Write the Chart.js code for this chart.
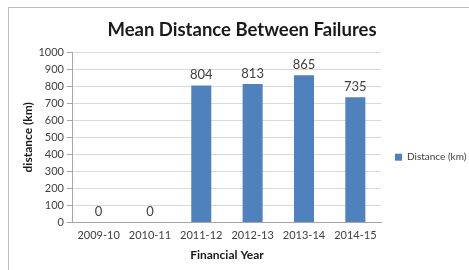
<!DOCTYPE html>
<html>
<head>
<meta charset="utf-8">
<script src="https://cdn.jsdelivr.net/npm/chart.js@4"></script>
<style>
  html, body { margin:0; padding:0; background:#fff; }
  #wrap { position:relative; width:469px; height:270px; overflow:hidden; }
  #frame { position:absolute; left:8px; top:7px; width:500px; height:300px; border:1px solid #bdbdbd; }
  canvas { position:absolute; left:0; top:0; }
</style>
</head>
<body>
<div id="wrap">
  <div id="frame"></div>
  <canvas id="c" width="469" height="270"></canvas>
</div>
<script>
// chart data
const years    = ['2009-10','2010-11','2011-12','2012-13','2013-14','2014-15'];
const distance = [0, 0, 804, 813, 865, 735];
const yTicks   = [0,100,200,300,400,500,600,700,800,900,1000];

const FONT = 'Lato, "Liberation Sans", sans-serif';

// value labels above bars
const barLabels = {
    id: 'barLabels',
    afterDatasetsDraw(chart) {
        const ctx = chart.ctx;
        const meta = chart.getDatasetMeta(0);
        ctx.save();
        ctx.font = '13px ' + FONT;
        ctx.fillStyle = '#404040';
        ctx.textAlign = 'center';
        ctx.textBaseline = 'bottom';
        meta.data.forEach((bar, i) => {
            ctx.fillText(String(distance[i]), bar.x, bar.y - 4);
        });
        ctx.restore();
    }
};

new Chart(document.getElementById('c'), {
    type: 'bar',
    data: {
        labels: years,
        datasets: [{
            label: 'Distance (km)',
            data: distance,
            backgroundColor: '#4F81BD',
            barPercentage: 0.39,
            categoryPercentage: 1
        }]
    },
    options: {
        responsive: false,
        animation: false,
        events: [],
        layout: { padding: { left: 15, right: 0, top: 8, bottom: 8 } },
        plugins: {
            tooltip: { enabled: false },
            title: {
                display: true,
                text: 'Mean Distance Between Failures',
                color: '#1a1a1a',
                font: { family: FONT, size: 18.5, weight: 'bold' },
                padding: { top: 11, bottom: 11 }
            },
            legend: {
                position: 'right',
                maxWidth: 88,
                // empty title only pushes the single item down
                title: { display: true, text: '', padding: { top: 30, bottom: 0 }, font: { size: 12 } },
                labels: {
                    boxWidth: 7,
                    boxHeight: 7,
                    padding: 14,
                    color: '#404040',
                    font: { family: FONT, size: 10 }
                }
            }
        },
        scales: {
            x: {
                grid: { display: false, tickLength: 0 },
                border: { display: true, color: '#a6a6a6' },
                ticks: { color: '#404040', font: { family: FONT, size: 11 }, padding: 6 },
                title: {
                    display: true,
                    text: 'Financial Year',
                    color: '#1a1a1a',
                    font: { family: FONT, size: 12, weight: 'bold' },
                    padding: { top: 0, bottom: 0 }
                }
            },
            y: {
                min: 0,
                max: 1000,
                afterBuildTicks: axis => { axis.ticks = yTicks.map(v => ({ value: v })); },
                grid: { color: '#d9d9d9', tickColor: '#a6a6a6', tickLength: 6 },
                border: { display: true, color: '#a6a6a6' },
                ticks: {
                    color: '#404040',
                    font: { family: FONT, size: 11 },
                    padding: 3,
                    autoSkip: false,
                    callback: v => String(v)
                },
                title: {
                    display: true,
                    text: 'distance (km)',
                    color: '#1a1a1a',
                    font: { family: FONT, size: 12, weight: 'bold' },
                    padding: { top: 6, bottom: 0 }
                }
            }
        }
    },
    plugins: [barLabels]
});
</script>
</body>
</html>
